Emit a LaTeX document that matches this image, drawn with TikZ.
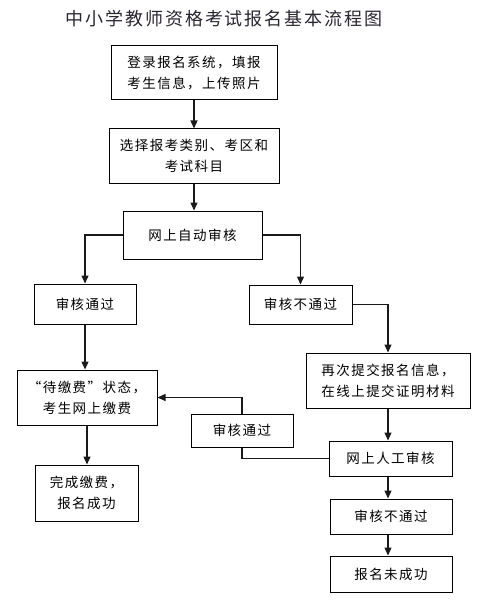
\documentclass[tikz,border=0pt]{standalone}
\usepackage{fontspec}
\usepackage{tikz}
\usetikzlibrary{positioning,arrows.meta,calc}
\newfontfamily\cjk[LetterSpace=11]{Noto Sans CJK SC}
\definecolor{linecol}{HTML}{1A1A1A}
\definecolor{titletext}{HTML}{2A2630}

\begin{document}
\begin{tikzpicture}[x=1pt,y=-1pt,
      box/.style={draw=black,line width=1pt,fill=white,align=center,inner sep=0pt,
        font=\cjk\fontsize{13.5}{21}\selectfont,text=black},
      flow/.style={-{Triangle[length=8pt,width=7pt]},linecol,line width=1.3pt},
      link/.style={linecol,line width=1.3pt}]
    \useasboundingbox (0,0) rectangle (477,604);
    \node[font=\cjk\fontsize{18}{20}\selectfont,text=titletext] (title) at (224,19) {中小学教师资格考试报名基本流程图};
    % main column
    \node[box,minimum width=166pt,minimum height=54pt] (login) at (194,73) {登录报名系统，填报\\考生信息，上传照片};
    \node[box,minimum width=170pt,minimum height=54pt] (choose) at (194,156) {选择报考类别、考区和\\考试科目};
    \node[box,minimum width=139pt,minimum height=48pt] (auto) at (192.5,235) {网上自动审核};
    % left branch
    \node[box,minimum width=102pt,minimum height=40pt] (pass) at (85,304) {审核通过};
    \node[box,minimum width=140pt,minimum height=55pt] (pay) at (87,397.5) {“待缴费”状态，\\考生网上缴费};
    \node[box,minimum width=103pt,minimum height=56pt] (done) at (86.5,493) {完成缴费，\\报名成功};
    % right branch
    \node[box,minimum width=103pt,minimum height=39pt] (fail) at (300.5,304.5) {审核不通过};
    \node[box,minimum width=164pt,minimum height=55pt] (resubmit) at (388,380.5) {再次提交报名信息，\\在线上提交证明材料};
    \node[box,minimum width=123pt,minimum height=35pt] (manual) at (390.5,458.5) {网上人工审核};
    \node[box,minimum width=102pt,minimum height=33pt] (pass2) at (242,430.5) {审核通过};
    \node[box,minimum width=122pt,minimum height=35pt] (fail2) at (391,516.5) {审核不通过};
    \node[box,minimum width=122pt,minimum height=36pt] (notok) at (391,574) {报名未成功};
    \draw[flow] (login.south) -- (login.south |- choose.north);
    \draw[flow] (choose.south) -- (choose.south |- auto.north);
    \draw[flow] (auto.west) -| (pass.north);
    \draw[flow] (auto.east) -| (fail.north);
    \draw[flow] (fail.east) -| (resubmit.north);
    \draw[flow] (pass.south) -- (pass.south |- pay.north);
    \draw[flow] (pay.south) -- (pay.south |- done.north);
    \draw[flow] (resubmit.south) -- (resubmit.south |- manual.north);
    \draw[flow] (manual.south -| resubmit.south) -- (resubmit.south |- fail2.north);
    \draw[flow] (fail2.south -| resubmit.south) -- (resubmit.south |- notok.north);
    \draw[link] (manual.west) -| (pass2.south);
    \draw[flow] (pass2.north) |- (pay.east);
  \end{tikzpicture}
\end{document}
